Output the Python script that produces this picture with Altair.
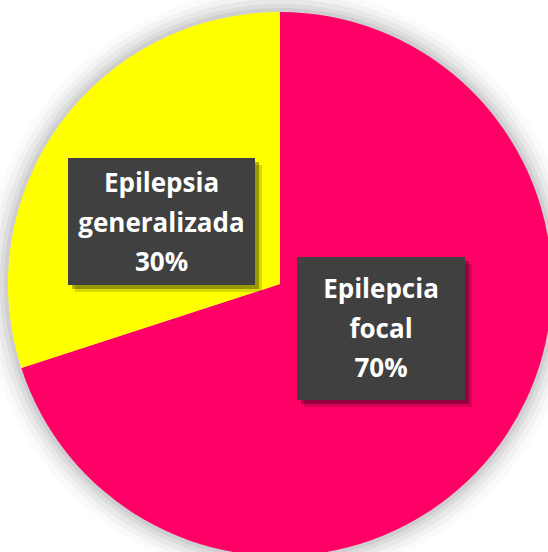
import altair as alt
import pandas as pd

categories = ["Epilepcia focal", "Epilepsia generalizada"]
values = [70, 30]
colors = ["#FF0066", "#FFFF00"]

df = pd.DataFrame({"categoria": categories, "valor": values, "orden": [0, 1]})
df["etiqueta"] = [c.replace(" ", "\n") + f"\n{v}%" for c, v in zip(categories, values)]

CX, CY, R = 280, 284, 272

base = alt.Chart(df)

# soft glow behind pie
glow_layers = []
for dr, op in [(24, 0.02), (18, 0.03), (13, 0.04), (8, 0.05), (4, 0.06)]:
    glow_layers.append(
        alt.Chart(pd.DataFrame({"k": [0]})).mark_arc(
            radius=R + dr, theta=0, theta2=6.2832, color="#000000", opacity=op
        ).encode(x=alt.value(CX), y=alt.value(CY))
    )

pie = base.mark_arc(radius=R, stroke=None).encode(
    theta=alt.Theta("valor:Q", stack=True),
    color=alt.Color("categoria:N", scale=alt.Scale(domain=categories, range=colors), legend=None),
    order=alt.Order("orden:Q"),
    x=alt.value(CX),
    y=alt.value(CY),
)

def label_box(cat, x1, x2, y1, y2, ty):
    d = df[df["categoria"] == cat]
    c = alt.Chart(d)
    sh1 = c.mark_rect(color="#000000", opacity=0.15).encode(
        x=alt.value(x1 + 7), x2=alt.value(x2 + 7), y=alt.value(y1 + 7), y2=alt.value(y2 + 7))
    sh2 = c.mark_rect(color="#000000", opacity=0.3).encode(
        x=alt.value(x1 + 4), x2=alt.value(x2 + 4), y=alt.value(y1 + 4), y2=alt.value(y2 + 4))
    box = c.mark_rect(color="#404040").encode(
        x=alt.value(x1), x2=alt.value(x2), y=alt.value(y1), y2=alt.value(y2))
    txt = c.mark_text(
        font="Open Sans", fontWeight="bold", fontSize=26, color="#FFFFFF",
        align="center", baseline="middle", lineBreak="\n", lineHeight=39.5,
    ).encode(text="etiqueta:N", x=alt.value((x1 + x2) / 2), y=alt.value(ty))
    return [sh1, sh2, box, txt]

layers = glow_layers + [pie]
layers += label_box("Epilepsia generalizada", 68, 255, 158, 285, 184)
layers += label_box("Epilepcia focal", 297, 465, 257, 400, 290)

chart = alt.layer(*layers).properties(
    width=548, height=552, autosize=alt.AutoSizeParams(type="none"), padding=0,
    background="#FFFFFF",
).configure_view(stroke=None)

chart.save("out.html", embed_options={"renderer": "svg", "actions": False})
